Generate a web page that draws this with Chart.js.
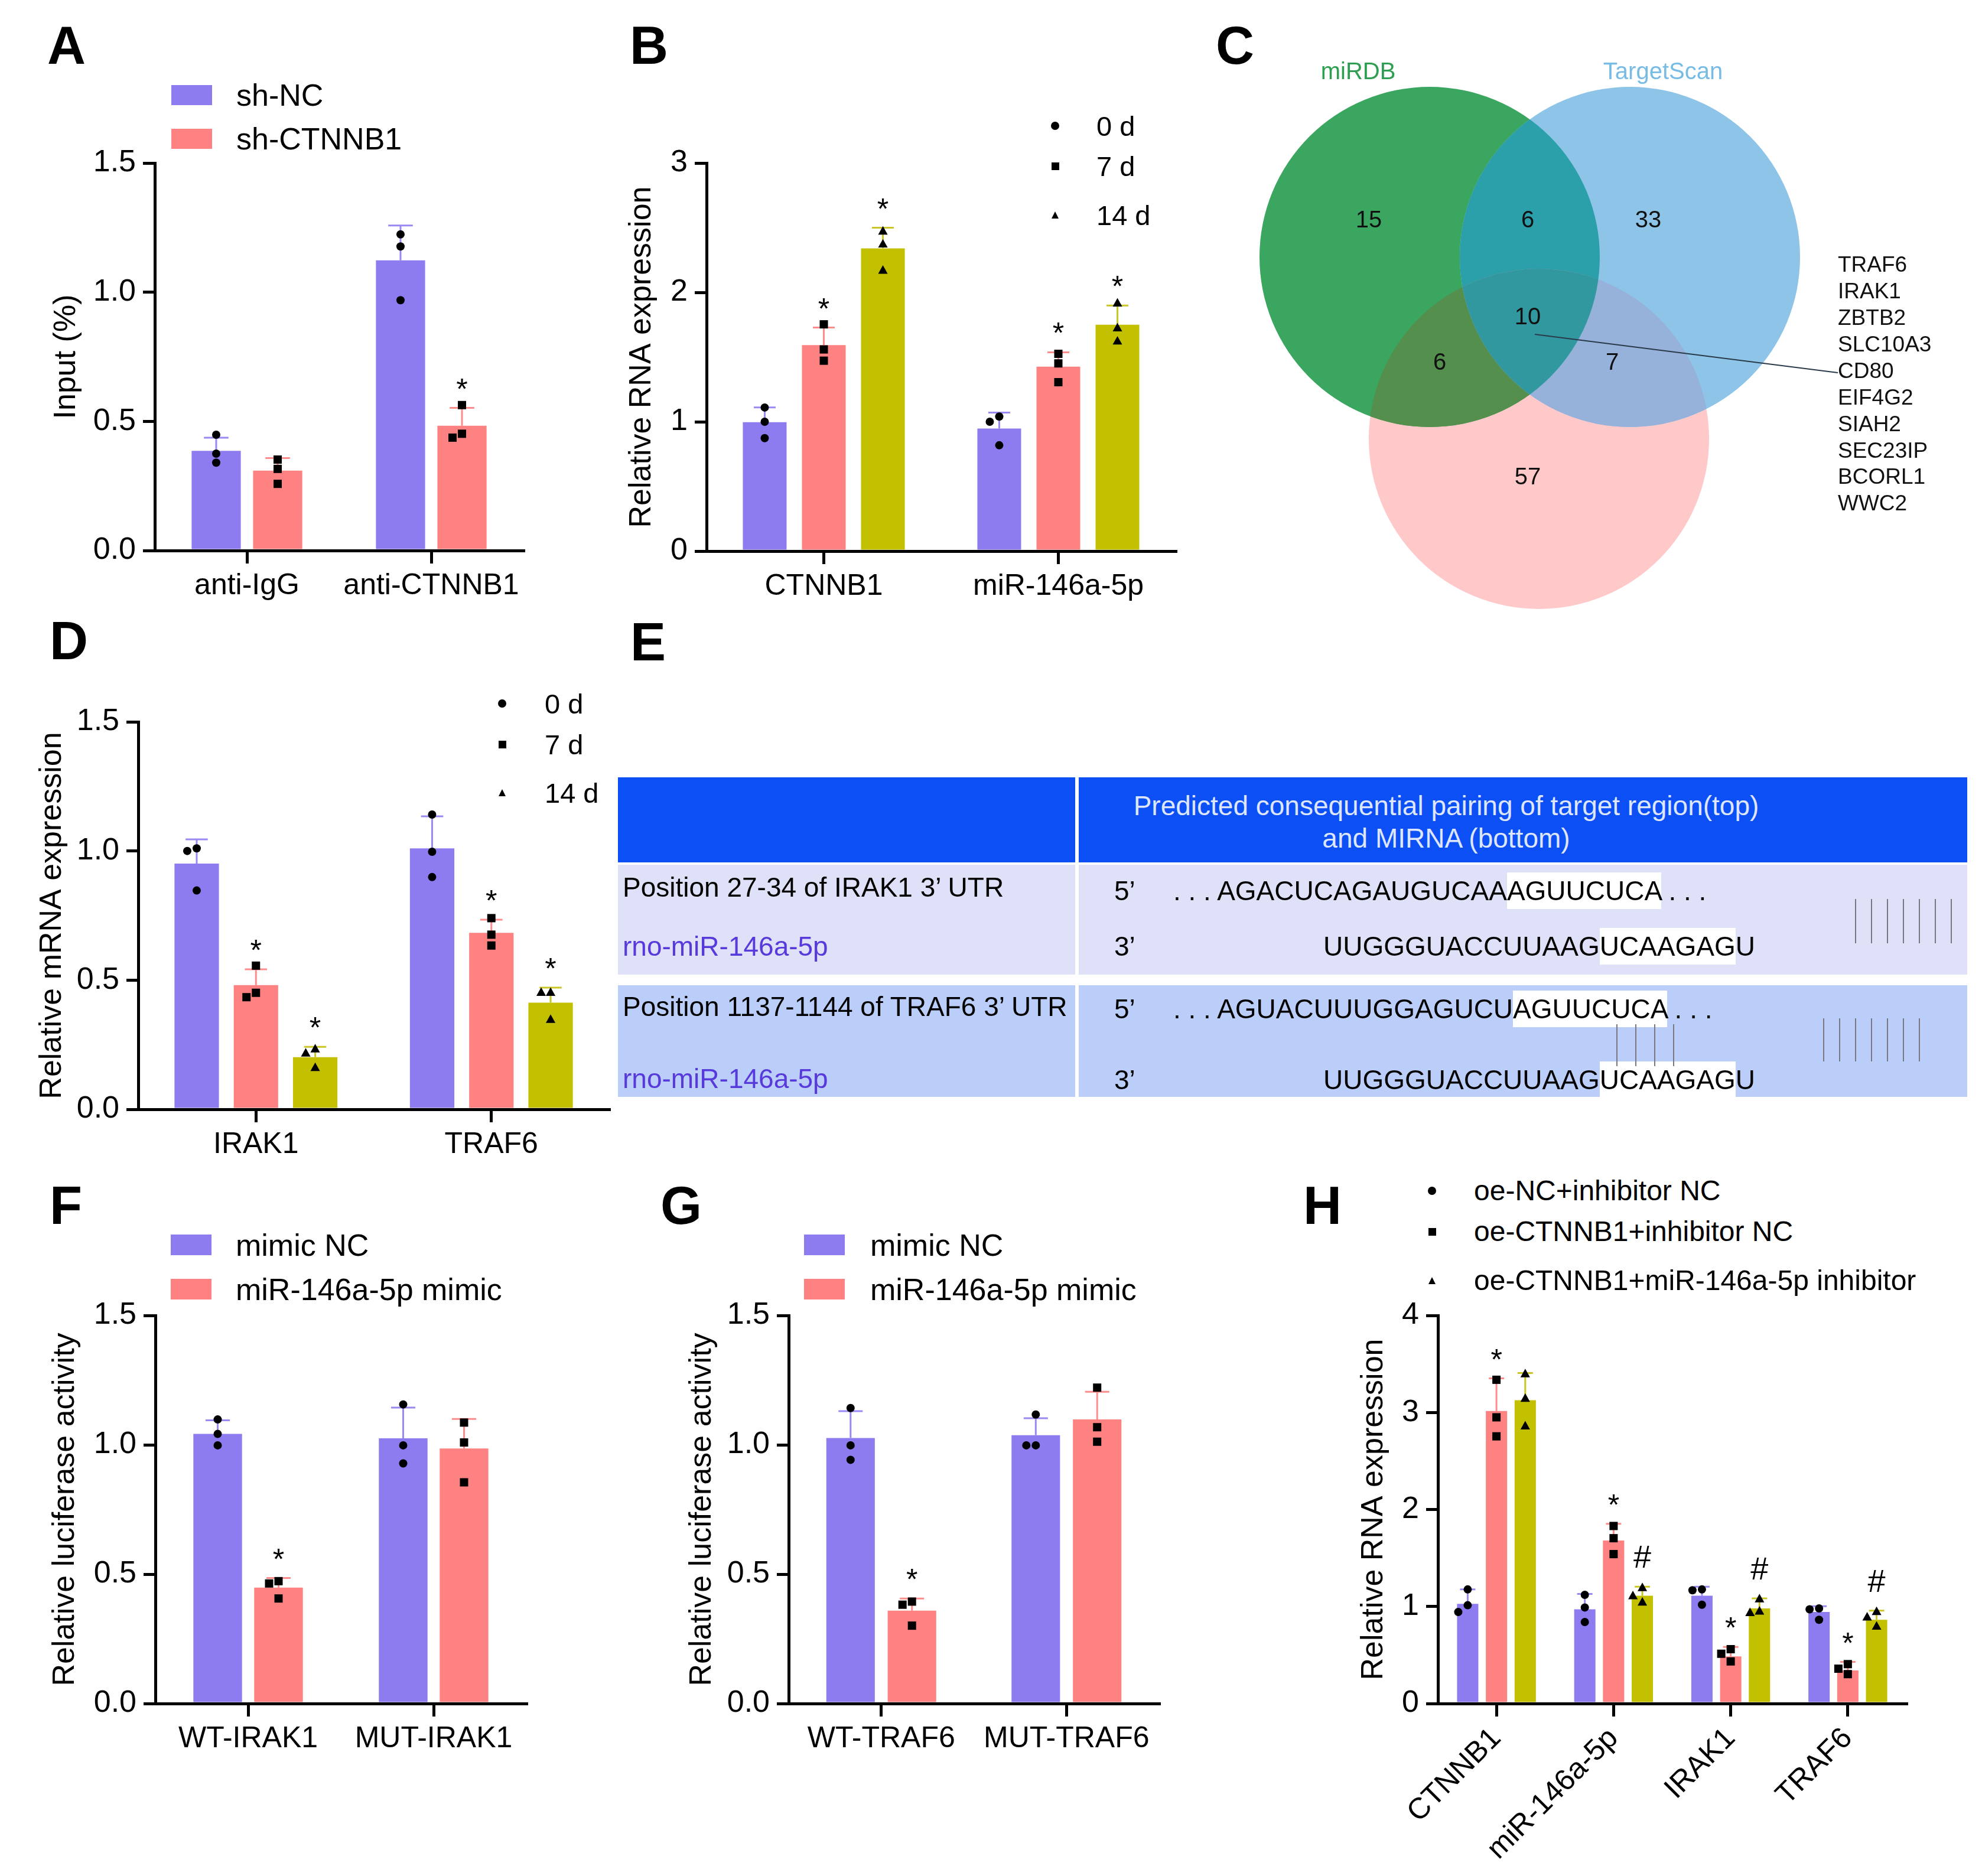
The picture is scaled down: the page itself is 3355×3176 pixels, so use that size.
<!DOCTYPE html>
<html>
<head>
<meta charset="utf-8">
<title>Figure</title>
<script src="https://cdn.jsdelivr.net/npm/chart.js@4.4.1/dist/chart.umd.min.js"></script>
<style>
html,body{margin:0;padding:0;background:#ffffff;}
body{position:relative;width:3355px;height:3176px;overflow:hidden;font-family:"Liberation Sans",Arial,Helvetica,sans-serif;color:#000;}
canvas{position:absolute;}
</style>
</head>
<body>
<script>
// ======================= DATA =======================
// Panel A
const A_categories = ['anti-IgG', 'anti-CTNNB1'];
const A_series = ['sh-NC', 'sh-CTNNB1'];
const A_shNC_mean = [0.386, 1.123];
const A_shNC_sd = [0.051, 0.135];
const A_shNC_points = [[0.448, 0.375, 0.340], [1.224, 1.177, 0.969]];
const A_shNC_sig = ['', ''];
const A_shCTNNB1_mean = [0.309, 0.483];
const A_shCTNNB1_sd = [0.049, 0.069];
const A_shCTNNB1_points = [[0.352, 0.316, 0.258], [0.563, 0.452, 0.437]];
const A_shCTNNB1_sig = ['', '*'];
const A_yTickLabels = ['0.0', '0.5', '1.0', '1.5'];

// Panel B
const B_categories = ['CTNNB1', 'miR-146a-5p'];
const B_series = ['0 d', '7 d', '14 d'];
const B_0d_mean = [0.997, 0.948];
const B_0d_sd = [0.114, 0.123];
const B_0d_points = [[1.110, 1.000, 0.873], [1.040, 1.000, 0.818]];
const B_0d_sig = ['', ''];
const B_7d_mean = [1.593, 1.426];
const B_7d_sd = [0.135, 0.111];
const B_7d_points = [[1.753, 1.559, 1.472], [1.525, 1.451, 1.306]];
const B_7d_sig = ['*', '*'];
const B_14d_mean = [2.340, 1.750];
const B_14d_sd = [0.160, 0.148];
const B_14d_points = [[2.470, 2.370, 2.167], [1.914, 1.722, 1.620]];
const B_14d_sig = ['*', '*'];
const B_yTickLabels = ['0', '1', '2', '3'];

// Panel C (Venn)
const C_sets = ['', 'miRDB', 'TargetScan'];
const C_regionCounts = [15, 6, 33, 10, 6, 7, 57];
const C_genes = ['TRAF6', 'IRAK1', 'ZBTB2', 'SLC10A3', 'CD80', 'EIF4G2', 'SIAH2', 'SEC23IP', 'BCORL1', 'WWC2'];

// Panel D
const D_categories = ['IRAK1', 'TRAF6'];
const D_series = ['0 d', '7 d', '14 d'];
const D_0d_mean = [0.951, 1.010];
const D_0d_sd = [0.094, 0.124];
const D_0d_points = [[1.010, 1.000, 0.847], [1.141, 0.997, 0.899]];
const D_0d_sig = ['', ''];
const D_7d_mean = [0.481, 0.683];
const D_7d_sd = [0.061, 0.051];
const D_7d_points = [[0.556, 0.451, 0.434], [0.740, 0.676, 0.634]];
const D_7d_sig = ['*', '*'];
const D_14d_mean = [0.202, 0.413];
const D_14d_sd = [0.040, 0.058];
const D_14d_points = [[0.232, 0.216, 0.160], [0.451, 0.451, 0.346]];
const D_14d_sig = ['*', '*'];
const D_yTickLabels = ['0.0', '0.5', '1.0', '1.5'];

// Panel E (table)
const E_headerLines = ['Predicted consequential pairing of target region(top)', 'and MIRNA (bottom)'];
const E_siteLabels = ['Position 27-34 of IRAK1 3\u2019 UTR', 'Position 1137-1144 of TRAF6 3\u2019 UTR'];
const E_miRNALabels = ['rno-miR-146a-5p', 'rno-miR-146a-5p'];
const E_targetSeq = [['AGACUCAGAUGUCAA', 'AGUUCUCA'], ['AGUACUUUGGAGUCU', 'AGUUCUCA']];
const E_miRNASeq = [['UUGGGUACCUUAAG', 'UCAAGAG', 'U'], ['UUGGGUACCUUAAG', 'UCAAGAG', 'U']];

// Panel F
const F_categories = ['WT-IRAK1', 'MUT-IRAK1'];
const F_series = ['mimic NC', 'miR-146a-5p mimic'];
const F_NC_mean = [1.042, 1.025];
const F_NC_sd = [0.053, 0.119];
const F_NC_points = [[1.098, 1.042, 0.998], [1.156, 0.998, 0.928]];
const F_NC_sig = ['', ''];
const F_mimic_mean = [0.448, 0.986];
const F_mimic_sd = [0.037, 0.114];
const F_mimic_points = [[0.473, 0.464, 0.406], [1.086, 1.009, 0.855]];
const F_mimic_sig = ['*', ''];
const F_yTickLabels = ['0.0', '0.5', '1.0', '1.5'];

// Panel G
const G_categories = ['WT-TRAF6', 'MUT-TRAF6'];
const G_series = ['mimic NC', 'miR-146a-5p mimic'];
const G_NC_mean = [1.026, 1.037];
const G_NC_sd = [0.104, 0.066];
const G_NC_points = [[1.142, 0.998, 0.942], [1.117, 0.998, 0.998]];
const G_NC_sig = ['', ''];
const G_mimic_mean = [0.359, 1.098];
const G_mimic_sd = [0.047, 0.107];
const G_mimic_points = [[0.394, 0.382, 0.301], [1.221, 1.068, 1.012]];
const G_mimic_sig = ['*', ''];
const G_yTickLabels = ['0.0', '0.5', '1.0', '1.5'];

// Panel H
const H_categories = ['CTNNB1', 'miR-146a-5p', 'IRAK1', 'TRAF6'];
const H_series = ['oe-NC+inhibitor NC', 'oe-CTNNB1+inhibitor NC', 'oe-CTNNB1+miR-146a-5p inhibitor'];
const H_s1_mean = [1.027, 0.971, 1.111, 0.943];
const H_s1_sd = [0.149, 0.159, 0.093, 0.060];
const H_s1_points = [[1.176, 1.013, 0.943], [1.120, 0.990, 0.840], [1.176, 1.167, 1.018], [0.980, 0.971, 0.863]];
const H_s1_sig = ['', '', '', ''];
const H_s2_mean = [3.015, 1.680, 0.485, 0.341];
const H_s2_sd = [0.336, 0.173, 0.098, 0.088];
const H_s2_points = [[3.337, 2.950, 2.754], [1.830, 1.704, 1.540], [0.560, 0.513, 0.434], [0.406, 0.359, 0.303]];
const H_s2_sig = ['*', '*', '*', '*'];
const H_s3_mean = [3.127, 1.111, 0.980, 0.863];
const H_s3_sd = [0.280, 0.093, 0.103, 0.094];
const H_s3_points = [[3.393, 3.141, 2.856], [1.190, 1.106, 1.041], [1.074, 0.947, 0.933], [0.943, 0.887, 0.793]];
const H_s3_sig = ['', '#', '#', '#'];
const H_yTickLabels = ['0', '1', '2', '3', '4'];

// ======================= STYLE / LAYOUT =======================
const FONT = '"Liberation Sans", Arial, Helvetica, sans-serif';
Chart.defaults.font.family = FONT;
Chart.defaults.color = '#000';
const COL = {
  purple: 'rgb(140,124,240)', salmon: 'rgb(255,130,130)', olive: 'rgb(195,192,0)'
};
const ERRCOL = {
  'rgb(140,124,240)': 'rgb(152,138,242)', 'rgb(255,130,130)': 'rgb(255,140,140)', 'rgb(195,192,0)': 'rgb(202,198,40)'
};
const GEOM = {
  A: {plotL: 262, plotR: 886, plotT: 276, plotB: 932, titleX: 112, xAxisH: 110, catPct: 0.667, barPct: 0.8, rot: 0},
  B: {plotL: 1196, plotR: 1990, plotT: 276, plotB: 933, titleX: 1086, xAxisH: 110, catPct: 0.756, barPct: 0.74, rot: 0},
  D: {plotL: 234, plotR: 1031, plotT: 1222, plotB: 1878, titleX: 88, xAxisH: 110, catPct: 0.755, barPct: 0.75, rot: 0},
  F: {plotL: 263, plotR: 891, plotT: 2227, plotB: 2884, titleX: 110, xAxisH: 110, catPct: 0.656, barPct: 0.8, rot: 0},
  G: {plotL: 1335, plotR: 1962, plotT: 2227, plotB: 2884, titleX: 1188, xAxisH: 110, catPct: 0.663, barPct: 0.79, rot: 0},
  H: {plotL: 2434, plotR: 3227, plotT: 2227, plotB: 2884, titleX: 2325, xAxisH: 280, catPct: 0.737, barPct: 0.74, rot: 45}
};

// ======================= HTML helpers =======================
function el(tag, css, text) {
  const e = document.createElement(tag);
  Object.assign(e.style, css);
  if (text != null) e.textContent = text;
  document.body.appendChild(e);
  return e;
}
function txt(s, x, cy, size, extra) {
  return el('div', Object.assign({position: 'absolute', left: x + 'px', top: (cy - size / 2) + 'px',
    fontSize: size + 'px', lineHeight: size + 'px', whiteSpace: 'nowrap'}, extra || {}), s);
}
function letter(s, x, baseline) {
  el('div', {position: 'absolute', left: x + 'px', top: (baseline - 76) + 'px', fontSize: '90px',
    lineHeight: '90px', fontWeight: 'bold'}, s);
}
function swatch(x, y, w, h, color) {
  el('div', {position: 'absolute', left: x + 'px', top: y + 'px', width: w + 'px', height: h + 'px', background: color});
}
function sym(shape, cx, cy, s) {
  const css = {position: 'absolute', left: (cx - s / 2) + 'px', top: (cy - s / 2) + 'px', width: s + 'px', height: s + 'px', background: '#000'};
  if (shape === 'circle') css.borderRadius = '50%';
  if (shape === 'triangle') css.clipPath = 'polygon(50% 0, 100% 100%, 0 100%)';
  el('div', css);
}

// ======================= Chart plugins =======================
function drawShape(ctx, shape, x, y, r) {
  ctx.beginPath();
  if (shape === 'circle') { ctx.arc(x, y, r, 0, Math.PI * 2); }
  else if (shape === 'square') { ctx.rect(x - r, y - r, 2 * r, 2 * r); }
  else { const s = 2.3 * r; ctx.moveTo(x, y - s * 0.58); ctx.lineTo(x + s / 2, y + s * 0.32); ctx.lineTo(x - s / 2, y + s * 0.32); ctx.closePath(); }
  ctx.fill();
}
const errPointsPlugin = {
  id: 'errPoints',
  afterDatasetsDraw(chart) {
    const ctx = chart.ctx, ys = chart.scales.y;
    const R = 7;
    chart.data.datasets.forEach((ds, i) => {
      const meta = chart.getDatasetMeta(i);
      meta.data.forEach((bar, j) => {
        const x = bar.x, bw = bar.width;
        const yMean = ys.getPixelForValue(ds.data[j]);
        const yTop = ys.getPixelForValue(ds.data[j] + ds.sd[j]);
        ctx.save();
        ctx.strokeStyle = ERRCOL[ds.backgroundColor] || ds.backgroundColor;
        ctx.lineWidth = 3;
        ctx.beginPath();
        ctx.moveTo(x, yMean); ctx.lineTo(x, yTop);
        const cw = Math.max(bw * 0.5, 26) / 2;
        ctx.moveTo(x - cw, yTop); ctx.lineTo(x + cw, yTop);
        ctx.stroke();
        // replicate points (simple beeswarm)
        ctx.fillStyle = '#000';
        const placed = [];
        const dmin = 2 * R + 1, step = 16;
        ds.pts[j].forEach(v => {
          const py = ys.getPixelForValue(v);
          let off = 0;
          for (const cand of [0, -step, step, -2 * step, 2 * step]) {
            if (placed.every(p => Math.hypot(p.x - cand, p.y - py) >= dmin)) { off = cand; break; }
          }
          placed.push({x: off, y: py});
          drawShape(ctx, ds.shape, x + off, py, R);
        });
        // significance marks
        const mark = ds.sig[j];
        if (mark) {
          ctx.textAlign = 'center';
          ctx.textBaseline = 'alphabetic';
          if (mark === '#') { ctx.font = '54px ' + FONT; ctx.fillText(mark, x, yTop - 32); }
          else { ctx.font = '50px ' + FONT; ctx.fillText(mark, x, yTop - 15); }
        }
        ctx.restore();
      });
    });
  }
};

function barPanel(key, cats, series, yMax, yStep, tickLabels, yTitle) {
  const g = GEOM[key];
  const left = g.titleX - 31;
  const top = g.plotT - 40;
  const W = g.plotR - left + 20;
  const H = (g.plotB - top) + g.xAxisH;
  const c = document.createElement('canvas');
  c.width = W; c.height = H;
  c.style.left = left + 'px'; c.style.top = top + 'px';
  c.style.width = W + 'px'; c.style.height = H + 'px';
  document.body.appendChild(c);
  new Chart(c, {
    type: 'bar',
    data: {
      labels: cats,
      datasets: series.map(s => ({
        label: s.label, data: s.mean, sd: s.sd, pts: s.pts, sig: s.sig, shape: s.shape,
        backgroundColor: s.color, borderWidth: 0,
        categoryPercentage: g.catPct, barPercentage: g.barPct
      }))
    },
    options: {
      responsive: false, animation: false, devicePixelRatio: 1, events: [],
      layout: {padding: {top: 40, left: 0, right: 20, bottom: 0}},
      plugins: {legend: {display: false}, tooltip: {enabled: false}},
      scales: {
        x: {
          grid: {display: true, drawOnChartArea: false, offset: false, tickLength: 22, lineWidth: 5, color: '#000'},
          border: {display: true, width: 5, color: '#000'},
          ticks: {font: {size: 50}, color: '#000', padding: 8, maxRotation: g.rot, minRotation: g.rot, autoSkip: false},
          afterFit: s => { s.height = g.xAxisH; s.paddingLeft = 0; s.paddingRight = 0; }
        },
        y: {
          min: 0, max: yMax,
          ticks: {stepSize: yStep, font: {size: 52}, color: '#000', padding: 12, callback: (v, i) => tickLabels[i]},
          grid: {display: true, drawOnChartArea: false, tickLength: 20, lineWidth: 5, color: '#000'},
          border: {display: true, width: 5, color: '#000'},
          title: {display: true, text: yTitle, font: {size: 52}, color: '#000', padding: {top: 0, bottom: 0}},
          afterFit: s => { s.width = g.plotL - left; s.paddingTop = 0; s.paddingBottom = 0; }
        }
      }
    },
    plugins: [errPointsPlugin]
  });
}

// ======================= Panels =======================
// A
barPanel('A', A_categories, [
  {label: A_series[0], mean: A_shNC_mean, sd: A_shNC_sd, pts: A_shNC_points, sig: A_shNC_sig, color: COL.purple, shape: 'circle'},
  {label: A_series[1], mean: A_shCTNNB1_mean, sd: A_shCTNNB1_sd, pts: A_shCTNNB1_points, sig: A_shCTNNB1_sig, color: COL.salmon, shape: 'square'}
], 1.5, 0.5, A_yTickLabels, 'Input (%)');
letter('A', 80, 108);
swatch(290, 144, 69, 34, COL.purple); txt(A_series[0], 400, 161, 52);
swatch(290, 218, 69, 34, COL.salmon); txt(A_series[1], 400, 235, 52);

// B
barPanel('B', B_categories, [
  {label: B_series[0], mean: B_0d_mean, sd: B_0d_sd, pts: B_0d_points, sig: B_0d_sig, color: COL.purple, shape: 'circle'},
  {label: B_series[1], mean: B_7d_mean, sd: B_7d_sd, pts: B_7d_points, sig: B_7d_sig, color: COL.salmon, shape: 'square'},
  {label: B_series[2], mean: B_14d_mean, sd: B_14d_sd, pts: B_14d_points, sig: B_14d_sig, color: COL.olive, shape: 'triangle'}
], 3, 1, B_yTickLabels, 'Relative RNA expression');
letter('B', 1066, 108);
sym('circle', 1786, 213, 14); txt(B_series[0], 1856, 213, 47);
sym('square', 1786, 281, 13); txt(B_series[1], 1856, 281, 47);
sym('triangle', 1786, 364, 12); txt(B_series[2], 1856, 364, 47);

// D
barPanel('D', D_categories, [
  {label: D_series[0], mean: D_0d_mean, sd: D_0d_sd, pts: D_0d_points, sig: D_0d_sig, color: COL.purple, shape: 'circle'},
  {label: D_series[1], mean: D_7d_mean, sd: D_7d_sd, pts: D_7d_points, sig: D_7d_sig, color: COL.salmon, shape: 'square'},
  {label: D_series[2], mean: D_14d_mean, sd: D_14d_sd, pts: D_14d_points, sig: D_14d_sig, color: COL.olive, shape: 'triangle'}
], 1.5, 0.5, D_yTickLabels, 'Relative mRNA expression');
letter('D', 84, 1116);
sym('circle', 850, 1191, 14); txt(D_series[0], 922, 1191, 47);
sym('square', 850, 1260, 13); txt(D_series[1], 922, 1260, 47);
sym('triangle', 850, 1342, 12); txt(D_series[2], 922, 1342, 47);

// F
barPanel('F', F_categories, [
  {label: F_series[0], mean: F_NC_mean, sd: F_NC_sd, pts: F_NC_points, sig: F_NC_sig, color: COL.purple, shape: 'circle'},
  {label: F_series[1], mean: F_mimic_mean, sd: F_mimic_sd, pts: F_mimic_points, sig: F_mimic_sig, color: COL.salmon, shape: 'square'}
], 1.5, 0.5, F_yTickLabels, 'Relative luciferase activity');
letter('F', 84, 2072);
swatch(289, 2090, 69, 35, COL.purple); txt(F_series[0], 399, 2108, 52);
swatch(289, 2165, 69, 35, COL.salmon); txt(F_series[1], 399, 2183, 52);

// G
barPanel('G', G_categories, [
  {label: G_series[0], mean: G_NC_mean, sd: G_NC_sd, pts: G_NC_points, sig: G_NC_sig, color: COL.purple, shape: 'circle'},
  {label: G_series[1], mean: G_mimic_mean, sd: G_mimic_sd, pts: G_mimic_points, sig: G_mimic_sig, color: COL.salmon, shape: 'square'}
], 1.5, 0.5, G_yTickLabels, 'Relative luciferase activity');
letter('G', 1118, 2072);
swatch(1361, 2090, 69, 35, COL.purple); txt(G_series[0], 1473, 2108, 52);
swatch(1361, 2165, 69, 35, COL.salmon); txt(G_series[1], 1473, 2183, 52);

// H
barPanel('H', H_categories, [
  {label: H_series[0], mean: H_s1_mean, sd: H_s1_sd, pts: H_s1_points, sig: H_s1_sig, color: COL.purple, shape: 'circle'},
  {label: H_series[1], mean: H_s2_mean, sd: H_s2_sd, pts: H_s2_points, sig: H_s2_sig, color: COL.salmon, shape: 'square'},
  {label: H_series[2], mean: H_s3_mean, sd: H_s3_sd, pts: H_s3_points, sig: H_s3_sig, color: COL.olive, shape: 'triangle'}
], 4, 1, H_yTickLabels, 'Relative RNA expression');
letter('H', 2206, 2072);
sym('circle', 2424, 2016, 14); txt(H_series[0], 2495, 2016, 48);
sym('square', 2424, 2085, 13); txt(H_series[1], 2495, 2085, 48);
sym('triangle', 2424, 2168, 12); txt(H_series[2], 2495, 2168, 48);

// ======================= C: Venn =======================
const VL = {
  left: 2100, top: 40, width: 1255, height: 1020, r: 288,
  centers: [[2605, 743], [2420, 435], [2759, 435]],           // third set, miRDB, TargetScan
  fills: ['rgb(255,201,201)', 'rgb(58,166,96)', 'rgb(142,196,232)'],
  overlap: {gb: 'rgb(44,160,170)', gp: 'rgb(84,143,78)', bp: 'rgb(150,177,218)', gbp: 'rgb(50,152,160)'},
  regionPos: [[2317, 374], [2586, 374], [2790, 374], [2586, 538], [2437, 615], [2729, 615], [2586, 809]],
  setLabelPos: [null, [2299, 123], [2815, 123]],
  setLabelColor: [null, 'rgb(46,158,80)', 'rgb(120,188,230)'],
  geneX: 3111, geneY0: 450, geneStep: 44.9,
  leader: [[2598, 566], [3111, 631]]
};
letter('C', 2058, 108);
(function () {
  const c = document.createElement('canvas');
  c.width = VL.width; c.height = VL.height;
  c.style.left = VL.left + 'px'; c.style.top = VL.top + 'px';
  c.style.width = VL.width + 'px'; c.style.height = VL.height + 'px';
  document.body.appendChild(c);
  const vennPlugin = {
    id: 'venn',
    afterDatasetsDraw(chart) {
      const ctx = chart.ctx, xs = chart.scales.x, ys = chart.scales.y;
      const els = chart.getDatasetMeta(0).data;
      const circ = i => { ctx.beginPath(); ctx.arc(els[i].x, els[i].y, els[i].options.radius, 0, Math.PI * 2); };
      const inter = (ids, color) => {
        ctx.save();
        for (let k = 0; k < ids.length - 1; k++) { circ(ids[k]); ctx.clip(); }
        circ(ids[ids.length - 1]); ctx.fillStyle = color; ctx.fill();
        ctx.restore();
      };
      inter([1, 2], VL.overlap.gb);
      inter([1, 0], VL.overlap.gp);
      inter([2, 0], VL.overlap.bp);
      inter([1, 2, 0], VL.overlap.gbp);
      const px = v => xs.getPixelForValue(v - VL.left);
      const py = v => ys.getPixelForValue(v - VL.top);
      ctx.save();
      ctx.textAlign = 'center'; ctx.textBaseline = 'middle';
      ctx.fillStyle = '#111';
      ctx.font = '40px ' + FONT;
      C_regionCounts.forEach((n, i) => ctx.fillText(String(n), px(VL.regionPos[i][0]), py(VL.regionPos[i][1])));
      C_sets.forEach((s, i) => {
        if (!s) return;
        ctx.fillStyle = VL.setLabelColor[i];
        ctx.fillText(s, px(VL.setLabelPos[i][0]), py(VL.setLabelPos[i][1]));
      });
      ctx.strokeStyle = '#2a3a4a'; ctx.lineWidth = 2;
      ctx.beginPath();
      ctx.moveTo(px(VL.leader[0][0]), py(VL.leader[0][1]));
      ctx.lineTo(px(VL.leader[1][0]), py(VL.leader[1][1]));
      ctx.stroke();
      ctx.fillStyle = '#111'; ctx.textAlign = 'left';
      ctx.font = '37px ' + FONT;
      C_genes.forEach((gname, i) => ctx.fillText(gname, px(VL.geneX), py(VL.geneY0 + i * VL.geneStep)));
      ctx.restore();
    }
  };
  new Chart(c, {
    type: 'bubble',
    data: {
      datasets: [{
        label: 'sets',
        data: VL.centers.map(p => ({x: p[0] - VL.left, y: p[1] - VL.top})),
        backgroundColor: VL.fills, borderWidth: 0, radius: VL.r, hoverRadius: 0, clip: false
      }]
    },
    options: {
      responsive: false, animation: false, devicePixelRatio: 1, events: [],
      layout: {padding: 0, autoPadding: false},
      plugins: {legend: {display: false}, tooltip: {enabled: false}},
      scales: {
        x: {type: 'linear', min: 0, max: VL.width, display: false, offset: false},
        y: {type: 'linear', min: 0, max: VL.height, reverse: true, display: false, offset: false}
      }
    },
    plugins: [vennPlugin]
  });
})();

// ======================= E: table =======================
letter('E', 1067, 1118);
(function () {
  const T = {left: 1046, right: 3330, split: 1820, gap: 6, headTop: 1316, headBot: 1460,
    rows: [{top: 1464, bot: 1650, bg: 'rgb(222,225,248)'}, {top: 1668, bot: 1857, bg: 'rgb(186,206,249)'}],
    headBg: 'rgb(12,80,245)', headColor: 'rgb(222,230,255)', fs: 46};
  const box = (x1, y1, x2, y2, bg) => el('div', {position: 'absolute', left: x1 + 'px', top: y1 + 'px', width: (x2 - x1) + 'px', height: (y2 - y1) + 'px', background: bg});
  box(T.left, T.headTop, T.split, T.headBot, T.headBg);
  box(T.split + T.gap, T.headTop, T.right, T.headBot, T.headBg);
  txt(E_headerLines[0], 2448, 1364, T.fs, {transform: 'translateX(-50%)', color: T.headColor});
  txt(E_headerLines[1], 2448, 1419, T.fs, {transform: 'translateX(-50%)', color: T.headColor});
  const rowText = [
    {lab: 1502, mir: 1602, s5: 1508, s3: 1602},
    {lab: 1704, mir: 1826, s5: 1708, s3: 1828}
  ];
  function seqLine(parts, x, cy, leadDots, trailDots) {
    const d = txt('', x, cy, T.fs);
    const add = (s, hl) => {
      const sp = document.createElement('span');
      sp.textContent = s;
      if (hl) { sp.style.background = '#fff'; sp.style.padding = '5px 0'; }
      d.appendChild(sp);
    };
    if (leadDots) add('. . . ', false);
    parts.forEach((p, i) => add(p, i === 1));
    if (trailDots) add(' . . .', false);
    return d;
  }
  T.rows.forEach((r, i) => {
    box(T.left, r.top, T.split, r.bot, r.bg);
    box(T.split + T.gap, r.top, T.right, r.bot, r.bg);
    const rt = rowText[i];
    txt(E_siteLabels[i], 1054, rt.lab, T.fs);
    txt(E_miRNALabels[i], 1054, rt.mir, T.fs, {color: 'rgb(88,58,220)'});
    txt('5\u2019', 1886, rt.s5, T.fs);
    txt('3\u2019', 1886, rt.s3, T.fs);
    seqLine(E_targetSeq[i], 1986, rt.s5, true, true);
    seqLine(E_miRNASeq[i], 2240, rt.s3, false, false);
  });
  const vline = (x, y1, y2) => el('div', {position: 'absolute', left: x + 'px', top: y1 + 'px', width: '2px', height: (y2 - y1) + 'px', background: 'rgb(120,120,130)'});
  for (let k = 0; k < 7; k++) vline(3140 + k * 27, 1522, 1597);
  for (let k = 0; k < 7; k++) vline(3086 + k * 27, 1724, 1797);
  [2736, 2768, 2800, 2832].forEach(x => vline(x, 1734, 1805));
})();
</script>
</body>
</html>
